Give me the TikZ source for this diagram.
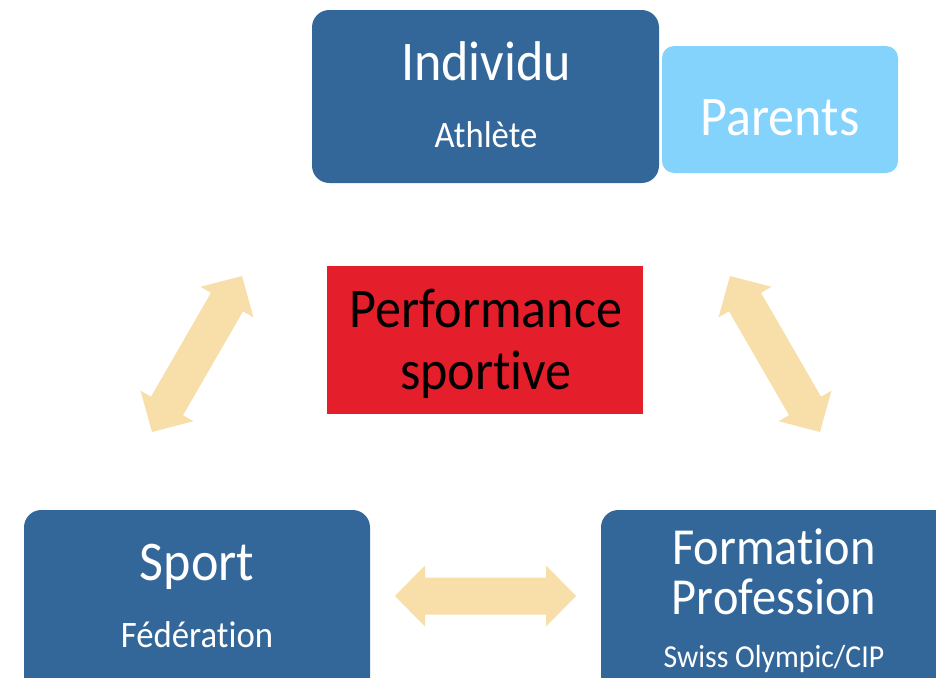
\documentclass[tikz,border=0pt]{standalone}
\usepackage{fontspec}
\setmainfont{Carlito}[FakeStretch=0.93, Ligatures={NoCommon}]
\definecolor{boxblue}{RGB}{52,103,153}
\definecolor{lightblue}{RGB}{132,211,253}
\definecolor{perfred}{RGB}{228,30,43}
\definecolor{arrowtan}{RGB}{248,222,168}
\tikzset{
  mainbox/.style={fill=boxblue, draw=none, rounded corners=13},
  txt/.style={text=white, anchor=base, inner sep=0pt},
  big/.style={font=\fontsize{42}{44}\selectfont},
  mid/.style={font=\fontsize{39}{41}\selectfont},
  small/.style={font=\fontsize{28}{30}\selectfont},
  tiny/.style={font=\fontsize{24}{26}\selectfont},
  arrowshape/.style={fill=arrowtan, draw=none}
}
\newcommand\dblarrow[4]{%
  \begin{scope}[shift={(#1,#2)}, rotate=#3]
    \fill[arrowshape] (-#4/2,0) -- (-#4/2+30,30.5) -- (-#4/2+30,18.5) -- (#4/2-30,18.5)
      -- (#4/2-30,30.5) -- (#4/2,0) -- (#4/2-30,-30.5) -- (#4/2-30,-18.5)
      -- (-#4/2+30,-18.5) -- (-#4/2+30,-30.5) -- cycle;
  \end{scope}}
\begin{document}
\begin{tikzpicture}[x=0.75pt, y=-0.75pt]
\useasboundingbox (0,0) rectangle (936,678);
\clip (0,0) rectangle (936,678);
\fill[white] (0,0) rectangle (936,678);
% boxes
\path[mainbox] (312,10) rectangle (659,183);
\path[fill=lightblue, rounded corners=9] (662,46) rectangle (898,173);
\path[fill=perfred] (327,266) rectangle (643,414);
\path[mainbox] (24,510) rectangle (370,710);
\path[mainbox] (601,510) rectangle (960,710);
% texts
\node[txt, big] (ind) at (486,80) {Individu};
\node[txt, small] (ath) at (486,147) {Athlète};
\node[txt, big] (par) at (780,135) {Parents};
\node[txt, big, text=black] (perf) at (486,327) {Performance};
\node[txt, big, text=black] (spo) at (486,389) {sportive};
\node[txt, big] (sport) at (197,580) {Sport};
\node[txt, small] (fed) at (197,647) {Fédération};
\node[txt, mid] (form) at (774,564) {Formation};
\node[txt, mid] (prof) at (774,614) {Profession};
\node[txt, tiny] (swiss) at (774,667) {Swiss Olympic/CIP};
% arrows
\dblarrow{197}{354}{60}{180}
\dblarrow{775}{354}{120}{180}
\dblarrow{485.5}{596}{0}{181}
\end{tikzpicture}
\end{document}
